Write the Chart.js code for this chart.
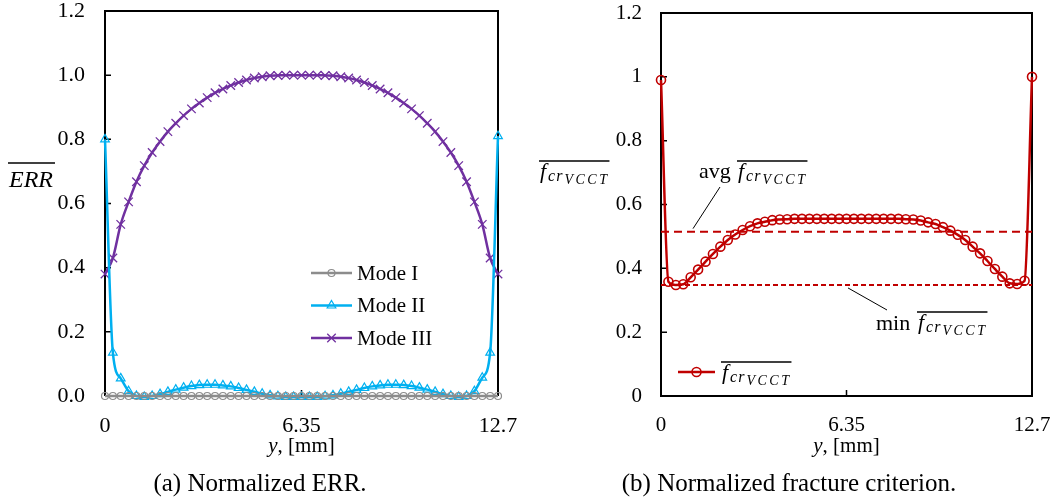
<!DOCTYPE html>
<html>
<head>
<meta charset="utf-8">
<script src="https://cdn.jsdelivr.net/npm/chart.js@4.4.1/dist/chart.umd.min.js"></script>
<style>
body{margin:0;background:#fff;}
#wrap{position:relative;width:1057px;height:500px;overflow:hidden;font-family:"Liberation Serif","Times New Roman",serif;}
canvas{position:absolute;top:0;}
.cap{position:absolute;top:470px;font-size:25px;line-height:25px;white-space:nowrap;transform:translateX(-50%);color:#000;}
</style>
</head>
<body>
<div id="wrap">
<canvas id="errChart" width="528" height="500" style="left:0"></canvas>
<canvas id="critChart" width="529" height="500" style="left:528px"></canvas>
<div class="cap" style="left:260px">(a) Normalized ERR.</div>
<div class="cap" style="left:789px">(b) Normalized fracture criterion.</div>
</div>
<script>
// node positions along the crack front, mm
const yPos = [0, 0.254, 0.508, 0.762, 1.016, 1.27, 1.524, 1.778, 2.032, 2.286, 2.54,
	2.794, 3.048, 3.302, 3.556, 3.81, 4.064, 4.318, 4.572, 4.826, 5.08,
	5.334, 5.588, 5.842, 6.096, 6.35, 6.604, 6.858, 7.112, 7.366, 7.62,
	7.874, 8.128, 8.382, 8.636, 8.89, 9.144, 9.398, 9.652, 9.906, 10.16,
	10.414, 10.668, 10.922, 11.176, 11.43, 11.684, 11.938, 12.192, 12.446, 12.7];

const modeI = [0, 0, 0, 0, 0, 0, 0, 0, 0, 0, 0, 0, 0, 0, 0, 0, 0, 0, 0, 0, 0, 0, 0, 0, 0, 0,
	0, 0, 0, 0, 0, 0, 0, 0, 0, 0, 0, 0, 0, 0, 0, 0, 0, 0, 0, 0, 0, 0, 0, 0, 0];

const modeII = [0.80, 0.135, 0.055, 0.015, 0.000, -0.003, 0.000, 0.006, 0.013, 0.020, 0.026,
	0.031, 0.034, 0.035, 0.035, 0.033, 0.030, 0.025, 0.019, 0.013, 0.007,
	0.002, -0.001, -0.003, -0.003, -0.003, -0.003, -0.003, -0.001, 0.002, 0.007,
	0.013, 0.019, 0.025, 0.030, 0.033, 0.035, 0.035, 0.034, 0.031, 0.026,
	0.020, 0.013, 0.006, 0.000, -0.003, 0.000, 0.015, 0.057, 0.135, 0.81];

const modeIII = [0.38, 0.43, 0.535, 0.605, 0.668, 0.718, 0.759, 0.793, 0.824, 0.850, 0.874,
	0.895, 0.913, 0.930, 0.945, 0.957, 0.968, 0.977, 0.985, 0.991, 0.995,
	0.998, 0.999, 1.000, 1.000, 1.000, 1.000, 1.000, 0.999, 0.998, 0.995,
	0.991, 0.985, 0.977, 0.968, 0.957, 0.945, 0.930, 0.913, 0.895, 0.874,
	0.850, 0.824, 0.793, 0.759, 0.718, 0.668, 0.605, 0.535, 0.43, 0.38];

const fcrVals = [0.99, 0.358, 0.348, 0.350, 0.372, 0.396, 0.421, 0.445, 0.468, 0.489, 0.506,
	0.520, 0.532, 0.541, 0.546, 0.551, 0.553, 0.554, 0.555, 0.555, 0.555,
	0.555, 0.555, 0.555, 0.555, 0.555, 0.555, 0.555, 0.555, 0.555, 0.555,
	0.555, 0.555, 0.554, 0.553, 0.550, 0.544, 0.539, 0.529, 0.518, 0.505,
	0.489, 0.468, 0.447, 0.423, 0.398, 0.374, 0.353, 0.351, 0.361, 1.0];

const avgFcr = 0.515;
const minFcr = 0.348;

const xTickVals = [0, 6.35, 12.7];
const modeNames = ['Mode I', 'Mode II', 'Mode III'];

const serif = '"Liberation Serif", "Times New Roman", serif';

function pts(vals){
	return vals.map((v, i) => ({x: yPos[i], y: v}));
}

function fixAxis(size){
	return s => {
		if(s.isHorizontal()) s.height = size; else s.width = size;
		s.paddingTop = 0; s.paddingBottom = 0; s.paddingLeft = 0; s.paddingRight = 0;
	};
}

function makeScales(yWidth, xHeight, fontSize, yPad, yFmt){
	return {
		x: {
			type: 'linear', min: 0, max: 12.7,
			grid: {display: false}, border: {display: false},
			afterBuildTicks: s => { s.ticks = xTickVals.map(v => ({value: v})); },
			ticks: {color: '#000', font: {family: serif, size: fontSize}, padding: 9,
				maxRotation: 0, autoSkip: false, callback: v => String(v)},
			afterFit: fixAxis(xHeight)
		},
		y: {
			min: 0, max: 1.2,
			grid: {display: false}, border: {display: false},
			ticks: {stepSize: 0.2, color: '#000', font: {family: serif, size: fontSize},
				padding: yPad, callback: yFmt},
			afterFit: fixAxis(yWidth)
		}
	};
}

// box round the plot and inward tick marks
const framePlugin = {
	id: 'frame',
	beforeDatasetsDraw(chart, args, o){
		const {ctx, chartArea: a, scales} = chart;
		ctx.save();
		ctx.strokeStyle = '#000';
		ctx.lineWidth = 2;
		ctx.beginPath();
		ctx.moveTo(a.left, a.bottom);
		ctx.lineTo(a.left, a.top);
		ctx.lineTo(a.right, a.top);
		ctx.lineTo(a.right, a.bottom);
		if(o.bottom) ctx.lineTo(a.left - 1, a.bottom);
		ctx.stroke();
		ctx.lineWidth = 1.5;
		ctx.beginPath();
		scales.y.ticks.forEach(t => {
			const y = scales.y.getPixelForValue(t.value);
			ctx.moveTo(a.left, y); ctx.lineTo(a.left + 6, y);
		});
		scales.x.ticks.forEach(t => {
			const x = scales.x.getPixelForValue(t.value);
			ctx.moveTo(x, a.bottom); ctx.lineTo(x, a.bottom - 6);
		});
		ctx.stroke();
		ctx.restore();
	}
};

// overlined f_{cr_{VCCT}}
function drawFcr(ctx, x, y){
	ctx.save();
	ctx.fillStyle = '#000';
	ctx.textAlign = 'left';
	ctx.textBaseline = 'alphabetic';
	ctx.font = 'italic 22px ' + serif;
	ctx.fillText('f', x, y);
	let cx = x + ctx.measureText('f').width + 2;
	ctx.font = 'italic 16px ' + serif;
	ctx.letterSpacing = '1px';
	ctx.fillText('cr', cx, y + 3);
	cx += ctx.measureText('cr').width + 1;
	ctx.font = 'italic 14px ' + serif;
	ctx.letterSpacing = '2.5px';
	ctx.fillText('VCCT', cx, y + 6);
	cx += ctx.measureText('VCCT').width;
	ctx.letterSpacing = '0px';
	ctx.strokeStyle = '#000';
	ctx.lineWidth = 1.5;
	ctx.beginPath();
	ctx.moveTo(x - 1, y - 17);
	ctx.lineTo(cx, y - 17);
	ctx.stroke();
	ctx.restore();
}

function drawXTitle(ctx, cx, y){
	ctx.save();
	ctx.fillStyle = '#000';
	ctx.textBaseline = 'alphabetic';
	ctx.textAlign = 'left';
	ctx.font = 'italic 21px ' + serif;
	const w1 = ctx.measureText('y').width;
	ctx.font = '21px ' + serif;
	const w2 = ctx.measureText(', [mm]').width;
	let x = cx - (w1 + w2) / 2;
	ctx.font = 'italic 21px ' + serif;
	ctx.fillText('y', x, y);
	ctx.font = '21px ' + serif;
	ctx.fillText(', [mm]', x + w1, y);
	ctx.restore();
}

function legendMark(ctx, ds, x1, x2, y){
	ctx.save();
	ctx.strokeStyle = ds.borderColor;
	ctx.lineWidth = ds.borderWidth;
	ctx.beginPath();
	ctx.moveTo(x1, y); ctx.lineTo(x2, y);
	ctx.stroke();
	ctx.fillStyle = ds.pointBackgroundColor;
	ctx.lineWidth = ds.pointBorderWidth;
	Chart.helpers.drawPoint(ctx, {pointStyle: ds.pointStyle, radius: ds.pointRadius,
		rotation: 0, borderWidth: ds.pointBorderWidth}, (x1 + x2) / 2, y);
	ctx.restore();
}

const errTexts = {
	id: 'errTexts',
	afterDraw(chart){
		const {ctx, chartArea: a} = chart;
		ctx.save();
		// y title: overlined ERR
		ctx.fillStyle = '#000';
		ctx.font = 'italic 24px ' + serif;
		ctx.textBaseline = 'alphabetic';
		ctx.fillText('ERR', 9, 187);
		const w = ctx.measureText('ERR').width;
		ctx.strokeStyle = '#000';
		ctx.lineWidth = 1.5;
		ctx.beginPath();
		ctx.moveTo(8, 163); ctx.lineTo(9 + w + 2, 163);
		ctx.stroke();
		// legend
		chart.data.datasets.forEach((ds, i) => {
			const y = 273 + i * 32.5;
			legendMark(ctx, ds, 311, 352, y);
			ctx.fillStyle = '#000';
			ctx.font = '21px ' + serif;
			ctx.textBaseline = 'middle';
			ctx.fillText(modeNames[i], 357, y + 1);
		});
		ctx.restore();
		drawXTitle(ctx, (a.left + a.right) / 2, 452);
	}
};

const critTexts = {
	id: 'critTexts',
	afterDraw(chart){
		const {ctx, chartArea: a, scales} = chart;
		drawFcr(ctx, 12, 178);
		// legend
		legendMark(ctx, chart.data.datasets[0], 150, 187, 372);
		drawFcr(ctx, 194, 379);
		// annotations
		ctx.save();
		ctx.fillStyle = '#000';
		ctx.font = '22px ' + serif;
		ctx.textBaseline = 'alphabetic';
		ctx.fillText('avg', 171, 178);
		ctx.fillText('min', 348, 330);
		ctx.strokeStyle = '#000';
		ctx.lineWidth = 1;
		ctx.beginPath();
		ctx.moveTo(192, 187);
		ctx.lineTo(165, scales.y.getPixelForValue(avgFcr) - 3);
		ctx.moveTo(320, scales.y.getPixelForValue(minFcr) + 3);
		ctx.lineTo(359, 310);
		ctx.stroke();
		ctx.restore();
		drawFcr(ctx, 210, 178);
		drawFcr(ctx, 390, 329);
		drawXTitle(ctx, (a.left + a.right) / 2, 452);
	}
};

const common = {
	responsive: false,
	animation: false,
	devicePixelRatio: 1,
	plugins: {legend: {display: false}, tooltip: {enabled: false}}
};

new Chart(document.getElementById('errChart'), {
	type: 'line',
	data: {
		datasets: [{
			label: modeNames[0], data: pts(modeI),
			borderColor: '#8c8c8c', borderWidth: 2.5,
			pointStyle: 'circle', pointRadius: 3.5, pointBorderWidth: 1.2,
			pointBorderColor: '#8c8c8c', pointBackgroundColor: 'rgba(255,255,255,0)',
			tension: 0.4, cubicInterpolationMode: 'monotone', clip: false
		},{
			label: modeNames[1], data: pts(modeII),
			borderColor: '#00b0f0', borderWidth: 2.5,
			pointStyle: 'triangle', pointRadius: 5, pointBorderWidth: 1.2,
			pointBorderColor: '#00b0f0', pointBackgroundColor: 'rgba(255,255,255,0)',
			tension: 0.4, cubicInterpolationMode: 'monotone', clip: false
		},{
			label: modeNames[2], data: pts(modeIII),
			borderColor: '#7030a0', borderWidth: 2.5,
			pointStyle: 'crossRot', pointRadius: 6, pointBorderWidth: 1.3,
			pointBorderColor: '#7030a0', pointBackgroundColor: 'rgba(255,255,255,0)',
			tension: 0.4, cubicInterpolationMode: 'monotone', clip: false
		}]
	},
	options: Object.assign({}, common, {
		layout: {padding: {left: 0, top: 11, right: 30, bottom: 0}},
		scales: makeScales(105, 104, 22, 12, v => v.toFixed(1)),
		plugins: Object.assign({}, common.plugins, {frame: {bottom: false}})
	}),
	plugins: [framePlugin, errTexts]
});

new Chart(document.getElementById('critChart'), {
	type: 'line',
	data: {
		datasets: [{
			label: 'fcr', data: pts(fcrVals),
			borderColor: '#c00000', borderWidth: 2.5,
			pointStyle: 'circle', pointRadius: 4.5, pointBorderWidth: 1.6,
			pointBorderColor: '#c00000', pointBackgroundColor: 'rgba(255,255,255,0)',
			tension: 0.4, cubicInterpolationMode: 'monotone', clip: false
		},{
			label: 'avg', data: [{x: yPos[0], y: avgFcr}, {x: yPos[yPos.length - 1], y: avgFcr}],
			borderColor: '#c00000', borderWidth: 2, borderDash: [8, 5],
			pointRadius: 0, clip: false
		},{
			label: 'min', data: [{x: yPos[0], y: minFcr}, {x: yPos[yPos.length - 1], y: minFcr}],
			borderColor: '#c00000', borderWidth: 2, borderDash: [5, 3],
			pointRadius: 0, clip: false
		}]
	},
	options: Object.assign({}, common, {
		layout: {padding: {left: 0, top: 13, right: 25, bottom: 0}},
		scales: makeScales(133, 104, 21, 11, v => String(+v.toFixed(1))),
		plugins: Object.assign({}, common.plugins, {frame: {bottom: true}})
	}),
	plugins: [framePlugin, critTexts]
});
</script>
</body>
</html>
